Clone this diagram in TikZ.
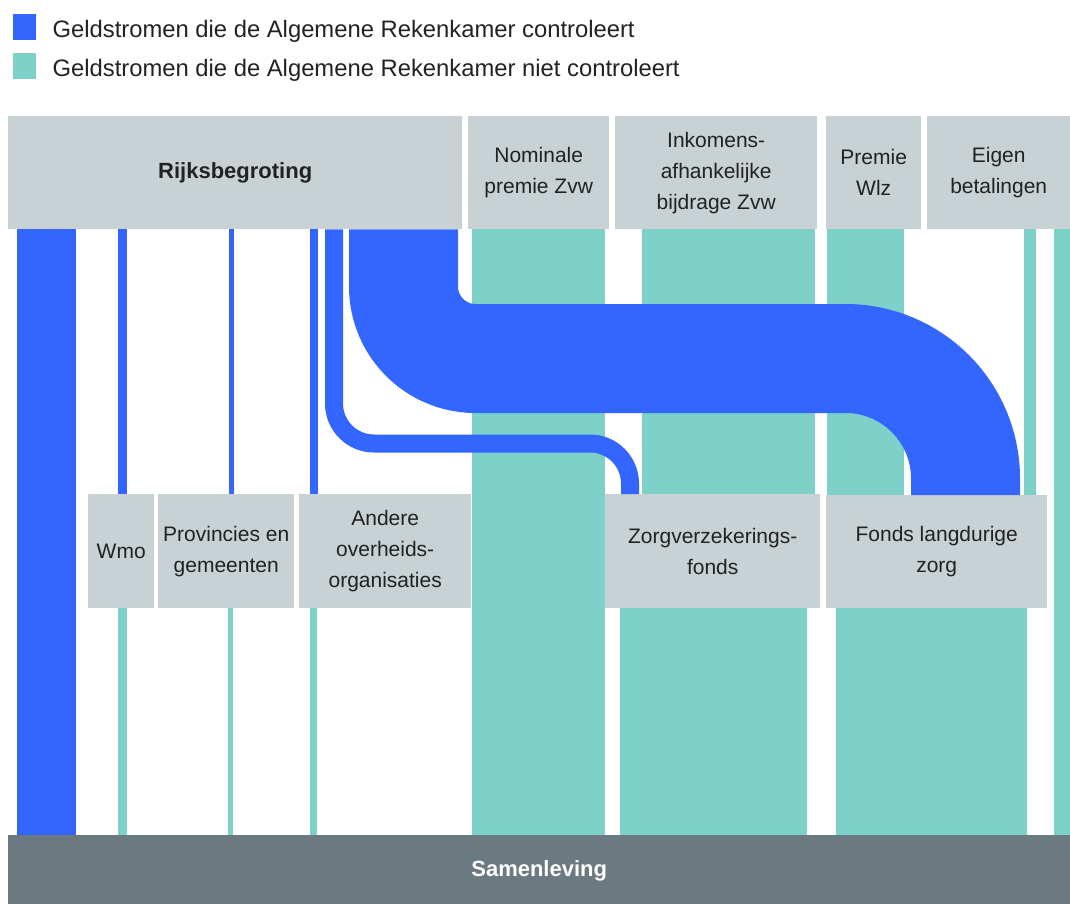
\documentclass[tikz,border=0pt]{standalone}
\usepackage{fontspec}
\setmainfont{Liberation Sans}
\usetikzlibrary{positioning}

\definecolor{arblue}{HTML}{3366FF}
\definecolor{arteal}{HTML}{7DD1C9}
\definecolor{boxgray}{HTML}{C8D1D3}
\definecolor{bargray}{HTML}{6B7980}
\definecolor{labeltext}{HTML}{222222}

\begin{document}
\begin{tikzpicture}[x=1pt, y=-1pt,
  box/.style={fill=boxgray, text=labeltext, align=center, inner sep=0pt,
    anchor=north west, font=\fontsize{21}{31}\selectfont},
  legsq/.style={minimum width=23pt, minimum height=26pt, inner sep=0pt, anchor=north west},
  legtext/.style={inner sep=0pt, text=labeltext, yshift=-4pt, font=\fontsize{23.8}{28}\selectfont},
  blueflow/.style={draw=arblue, line cap=butt},
  tealflow/.style={draw=arteal, line cap=butt}]
  \useasboundingbox (0,0) rectangle (1070,904);

  % legend
  \node[legsq, fill=arblue] (legblue) at (13,14) {};
  \node[legsq, fill=arteal] (legteal) at (13,53) {};
  \node[legtext, right=16pt of legblue] {Geldstromen die de Algemene Rekenkamer controleert};
  \node[legtext, right=16pt of legteal] {Geldstromen die de Algemene Rekenkamer niet controleert};

  % sources
  \node[box, minimum width=454pt, minimum height=113pt, font=\fontsize{22}{31}\selectfont\bfseries] (rijks) at (8,116) {Rijksbegroting};
  \node[box, minimum width=141pt, minimum height=113pt] (nominale) at (468,116) {Nominale\\premie Zvw};
  \node[box, minimum width=202pt, minimum height=113pt] (inkomens) at (615,116) {Inkomens-\\afhankelijke\\bijdrage Zvw};
  \node[box, minimum width=95pt, minimum height=113pt] (premiewlz) at (826,116) {Premie\\Wlz};
  \node[box, minimum width=143pt, minimum height=113pt] (eigen) at (927,116) {Eigen\\betalingen};

  % intermediate
  \node[box, minimum width=66pt, minimum height=114pt] (wmo) at (88,494) {Wmo};
  \node[box, minimum width=136pt, minimum height=114pt] (provincies) at (158,494) {Provincies en\\gemeenten};
  \node[box, minimum width=172pt, minimum height=114pt] (andere) at (299,494) {Andere\\overheids-\\organisaties};
  \node[box, minimum width=215pt, minimum height=114pt] (zorg) at (605,494) {Zorgverzekerings-\\fonds};
  \node[box, minimum width=221pt, minimum height=113pt] (fonds) at (826,495) {Fonds langdurige\\zorg};

  % destination
  \node[box, fill=bargray, text=white, minimum width=1062pt, minimum height=69pt, text depth=2pt, font=\fontsize{22}{31}\selectfont\bfseries] (samen) at (8,835) {Samenleving};

  % flows not checked
  \draw[tealflow, line width=133pt] (538.5,0 |- nominale.south) -- (538.5,0 |- samen.north);
  \draw[tealflow, line width=173pt] (728.5,0 |- inkomens.south) -- (728.5,0 |- zorg.north);
  \draw[tealflow, line width=77pt] (865.5,0 |- premiewlz.south) -- (865.5,0 |- fonds.north);
  \draw[tealflow, line width=12pt] (1030,0 |- eigen.south) -- (1030,0 |- fonds.north);
  \draw[tealflow, line width=16pt] (1062,0 |- eigen.south) -- (1062,0 |- samen.north);
  \draw[tealflow, line width=9pt] (122.5,0 |- wmo.south) -- (122.5,0 |- samen.north);
  \draw[tealflow, line width=5pt] (230.5,0 |- provincies.south) -- (230.5,0 |- samen.north);
  \draw[tealflow, line width=7pt] (313.5,0 |- andere.south) -- (313.5,0 |- samen.north);
  \draw[tealflow, line width=187pt] (713.5,0 |- zorg.south) -- (713.5,0 |- samen.north);
  \draw[tealflow, line width=191pt] (931.5,0 |- fonds.south) -- (931.5,0 |- samen.north);

  % flows checked
  \draw[blueflow, line width=59pt] (46.5,0 |- rijks.south) -- (46.5,0 |- samen.north);
  \draw[blueflow, line width=9pt] (122.5,0 |- rijks.south) -- (122.5,0 |- wmo.north);
  \draw[blueflow, line width=5pt] (231.5,0 |- rijks.south) -- (231.5,0 |- provincies.north);
  \draw[blueflow, line width=8pt] (314,0 |- rijks.south) -- (314,0 |- andere.north);
  \draw[blueflow, line width=18pt, rounded corners=40pt] (334,0 |- rijks.south) -- (334,443.5) -- (630,443.5) -- (630,0 |- zorg.north);
  \draw[blueflow, line width=109pt] (403.5,0 |- rijks.south) [rounded corners=72pt] -- (403.5,358.5) [rounded corners=120pt] -- (965.5,358.5) -- (965.5,0 |- fonds.north);
\end{tikzpicture}
\end{document}
